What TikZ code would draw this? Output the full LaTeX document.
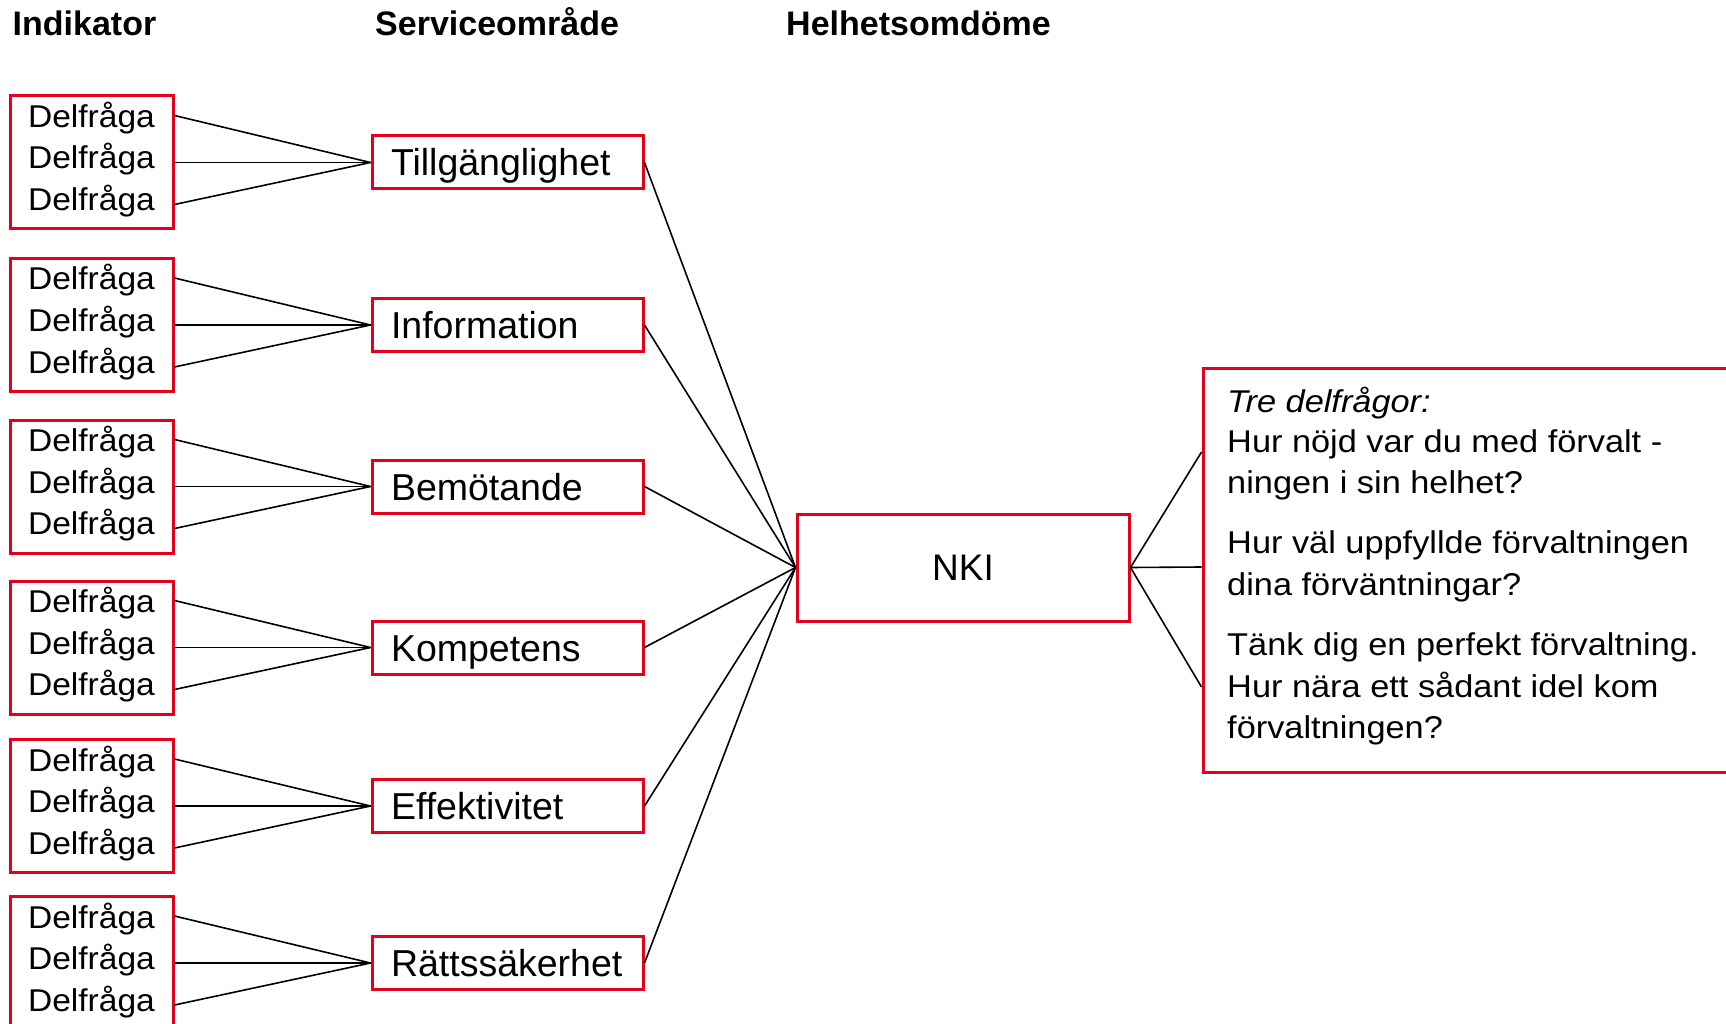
\documentclass[tikz,border=0pt]{standalone}
\usepackage{fontspec}
\setmainfont{Liberation Sans}
\newfontfamily\delfont[FakeStretch=1.065]{Liberation Sans}
\newfontfamily\qfont[FakeStretch=1.09]{Liberation Sans}
\definecolor{boxred}{RGB}{226,0,26}
\tikzset{
  redbox/.style={draw=boxred, line width=3pt, rectangle, inner sep=0pt},
  conn/.style={draw=black, line width=1.6pt},
  plain/.style={inner sep=0pt, anchor=base west},
  headtext/.style={plain, font=\bfseries\fontsize{34}{40}\selectfont},
  deltext/.style={inner sep=0pt, anchor=base, font=\delfont\fontsize{31.5}{40}\selectfont},
  qtext/.style={plain, font=\qfont\fontsize{31.5}{41}\selectfont},
  servbox/.style={redbox, minimum width=271pt, minimum height=53pt, text width=233pt,
    align=left, inner xsep=19pt, inner ysep=0pt, text height=27pt, text depth=0pt,
    font=\fontsize{37.5}{45}\selectfont},
  delbox/.style={redbox, minimum width=163pt, minimum height=133pt},
}
\begin{document}
\begin{tikzpicture}[x=1pt, y=-1pt]
\clip (0,0) rectangle (1726,1024);
\fill[white] (0,0) rectangle (1726,1024);

% headers
\node[headtext] (h1) at (12.5,36) {Indikator};
\node[headtext] (h2) at (375,36) {Serviceområde};
\node[headtext] (h3) at (786,36) {Helhetsomdöme};

% NKI
\node[redbox, minimum width=332pt, minimum height=107pt, text height=26.5pt, text depth=0pt,
  font=\fontsize{37}{44}\selectfont] (nki) at (963,567.5) {NKI};

% rows
\foreach \i/\c/\lab in {1/162.5/Tillgänglighet, 2/325/Information, 3/486.5/Bemötande,
                        4/647.5/Kompetens, 5/806/Effektivitet, 6/963/Rättssäkerhet}{
  \node[delbox] (d\i) at (91.5,\c) {};
  \node[deltext] (d\i a) at (91.5,{\c-35}) {Delfråga};
  \node[deltext] (d\i b) at (91.5,{\c+6.5}) {Delfråga};
  \node[deltext] (d\i c) at (91.5,{\c+48}) {Delfråga};
  \node[servbox] (s\i) at (507.5,\c) {\lab};
  \draw[conn] ([yshift=47pt]d\i.east) -- (s\i.west);
  \draw[conn] (d\i.east) -- (s\i.west);
  \draw[conn] ([yshift=-42pt]d\i.east) -- (s\i.west);
  \draw[conn] (s\i.east) -- (nki.west);
}

% right box
\node[redbox, minimum width=560pt, minimum height=404pt] (q) at (1483,570) {};
\draw[conn] (nki.east) -- ([yshift=118pt]q.west);
\draw[conn] (nki.east) -- ([yshift=3pt]q.west);
\draw[conn] (nki.east) -- ([yshift=-117pt]q.west);

\node[qtext] (q1) at (1227,412) {\itshape Tre delfrågor:};
\node[qtext] (q2) at (1227,452) {Hur nöjd var du med förvalt -};
\node[qtext] (q3) at (1227,493) {ningen i sin helhet?};
\node[qtext] (q4) at (1227,553) {Hur väl uppfyllde förvaltningen};
\node[qtext] (q5) at (1227,595) {dina förväntningar?};
\node[qtext] (q6) at (1227,655) {Tänk dig en perfekt förvaltning.};
\node[qtext] (q7) at (1227,697) {Hur nära ett sådant idel kom};
\node[qtext] (q8) at (1227,738) {förvaltningen?};
\end{tikzpicture}
\end{document}
